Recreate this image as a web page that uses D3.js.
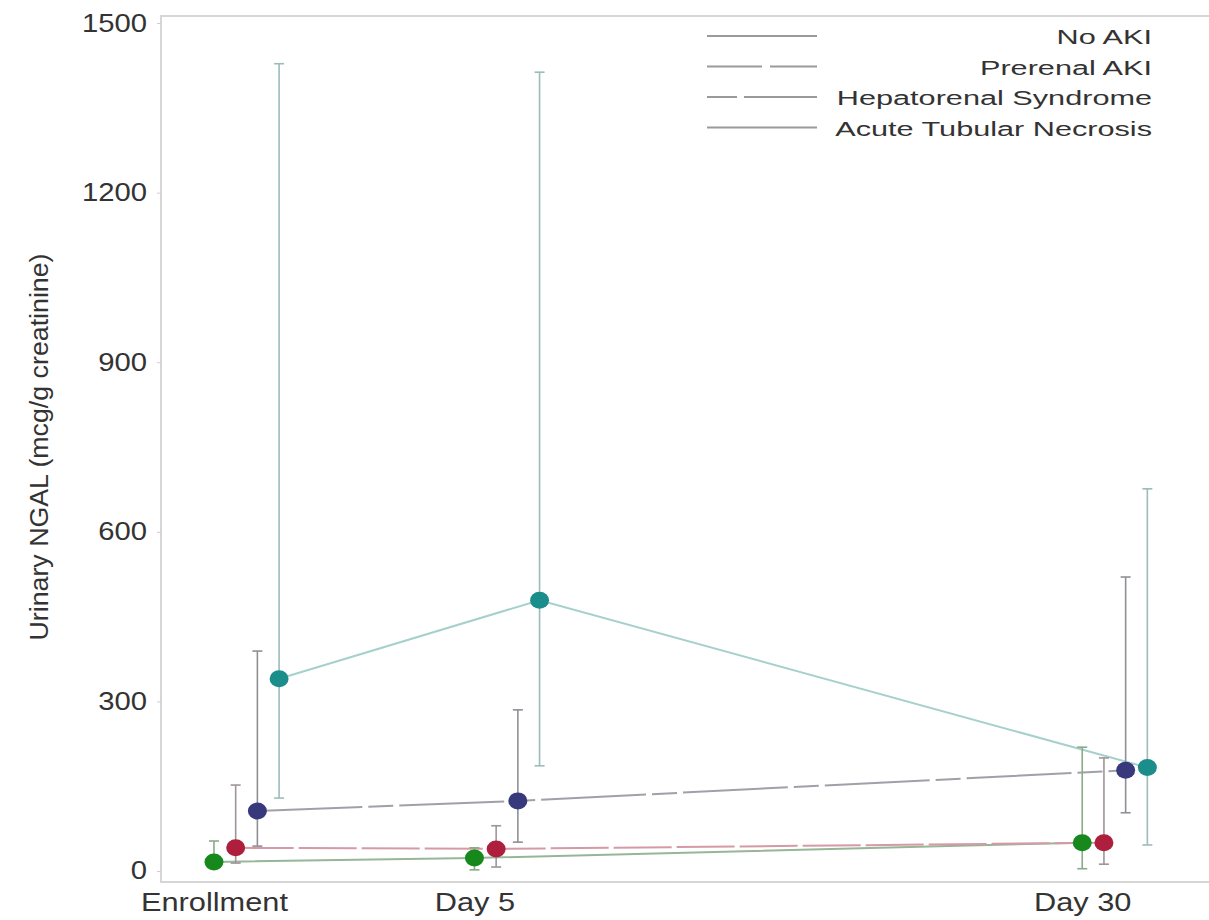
<!DOCTYPE html>
<html lang="en">
<head>
<meta charset="UTF-8">
<title>Urinary NGAL</title>
<script src="https://cdn.jsdelivr.net/npm/d3@7"></script>
<style>
  body { margin: 0; background: #fff; }
  svg text { font-family: "Liberation Sans", Arial, sans-serif; fill: #333; }
</style>
</head>
<body>
<svg width="1209" height="920"></svg>
<script>
// visits and groups
var visits = ['Enrollment', 'Day 5', 'Day 30'];
var visitX = [0, 3, 10];            // x position code of each visit
var groups = ['No AKI', 'Prerenal AKI', 'Hepatorenal Syndrome', 'Acute Tubular Necrosis'];
var yTicks = [0, 300, 600, 900, 1200, 1500];

// median and error bar ends, one value per visit
var noAkiMid = [16, 23, 50];
var noAkiLow = [5, 2, 4];
var noAkiHigh = [53, 41, 219];

var prerenalMid = [41, 39, 50];
var prerenalLow = [14, 7, 12];
var prerenalHigh = [152, 80, 200];

var hrsMid = [106, 124, 178];
var hrsLow = [44, 51, 103];
var hrsHigh = [389, 285, 520];

var atnMid = [340, 479, 183];
var atnLow = [129, 186, 46];
var atnHigh = [1428, 1413, 676];

var mids = [noAkiMid, prerenalMid, hrsMid, atnMid];
var lows = [noAkiLow, prerenalLow, hrsLow, atnLow];
var highs = [noAkiHigh, prerenalHigh, hrsHigh, atnHigh];

// styles per group
var dotColor = ['#17891c', '#ad1f3d', '#38387c', '#1b8d8a'];
var lineColor = ['#97b597', '#d49aa6', '#a0a0a8', '#a6d0cc'];
var barColor = ['#8aaa8a', '#a09498', '#8f8f96', '#9cbcb9'];
var dashes = [null, '58,5', '105,6,25,6', null];
var legendDash = [null, '55,8,47,8', '30,7,73,7', null];
var shift = [0, 0.25, 0.5, 0.75];

var svg = d3.select('svg');
var pLeft = 161, pTop = 16, pRight = 1209, pBottom = 882;

var x = d3.scaleLinear().domain([-0.61, 11.46]).range([pLeft, pRight]);
var y = d3.scaleLinear().domain([-19.5, 1512.4]).range([pBottom, pTop]);

// frame
svg.append('path')
  .attr('d', 'M' + pRight + ',' + pTop + 'H' + pLeft + 'V' + pBottom + 'H' + pRight)
  .attr('fill', 'none').attr('stroke', '#d6d6d6').attr('stroke-width', 2);

// y axis (the original picture is stretched sideways, so the text is too)
var yAxis = svg.append('g')
  .attr('transform', 'translate(' + pLeft + ',0)')
  .call(d3.axisLeft(y).tickValues(yTicks).tickFormat(d3.format('d')).tickSize(4).tickPadding(10));
yAxis.select('.domain').remove();
yAxis.selectAll('line').attr('stroke', '#cfcfcf');
yAxis.selectAll('text')
  .style('font-size', '25px').attr('fill', '#333')
  .attr('x', -12)
  .attr('transform', 'scale(1.17,1)');

// x axis labels
var xAxis = svg.append('g')
  .attr('transform', 'translate(0,' + pBottom + ')')
  .call(d3.axisBottom(x).tickValues(visitX).tickFormat(function (d, i) { return visits[i]; }).tickSize(0).tickPadding(11));
xAxis.select('.domain').remove();
xAxis.selectAll('text')
  .style('font-size', '25px').attr('fill', '#333')
  .attr('transform', 'scale(1.23,1)');

// y title
svg.append('text')
  .attr('transform', 'translate(48,447) rotate(-90)')
  .attr('text-anchor', 'middle')
  .attr('textLength', 387)
  .attr('lengthAdjust', 'spacingAndGlyphs')
  .style('font-size', '25px')
  .text('Urinary NGAL (mcg/g creatinine)');

var line = d3.line()
  .x(function (d) { return x(d[0]); })
  .y(function (d) { return y(d[1]); });

// connecting lines
groups.forEach(function (g, gi) {
  var pts = visitX.map(function (v, i) { return [v + shift[gi], mids[gi][i]]; });
  svg.append('path')
    .attr('d', line(pts))
    .attr('fill', 'none')
    .attr('stroke', lineColor[gi])
    .attr('stroke-width', 2)
    .attr('stroke-dasharray', dashes[gi]);
});

// error bars
groups.forEach(function (g, gi) {
  var eb = svg.append('g').attr('stroke', barColor[gi]).attr('stroke-width', 1.6);
  visitX.forEach(function (v, i) {
    var cx = x(v + shift[gi]);
    eb.append('line').attr('x1', cx).attr('x2', cx)
      .attr('y1', y(lows[gi][i])).attr('y2', y(highs[gi][i]));
    [lows[gi][i], highs[gi][i]].forEach(function (e) {
      eb.append('line').attr('x1', cx - 5).attr('x2', cx + 5)
        .attr('y1', y(e)).attr('y2', y(e));
    });
  });
});

// dots
groups.forEach(function (g, gi) {
  svg.append('g').selectAll('ellipse')
    .data(mids[gi])
    .enter()
    .append('ellipse')
    .attr('cx', function (d, i) { return x(visitX[i] + shift[gi]); })
    .attr('cy', function (d) { return y(d); })
    .attr('rx', 9.5)
    .attr('ry', 8.5)
    .attr('fill', dotColor[gi]);
});

// legend
var lg = svg.append('g');
groups.forEach(function (g, gi) {
  var ly = 36 + gi * 30.5;
  lg.append('line')
    .attr('x1', 707).attr('x2', 817).attr('y1', ly).attr('y2', ly)
    .attr('stroke', '#9a9a9a').attr('stroke-width', 2)
    .attr('stroke-dasharray', legendDash[gi]);
  lg.append('text')
    .attr('transform', 'translate(1152,' + (ly + 8) + ') scale(1.46,1)')
    .attr('text-anchor', 'end')
    .style('font-size', '21px')
    .text(g);
});
</script>
</body>
</html>
